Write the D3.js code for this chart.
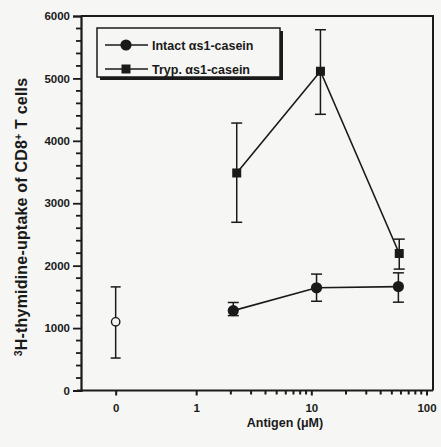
<!DOCTYPE html>
<html>
<head>
<meta charset="utf-8">
<script src="https://cdn.jsdelivr.net/npm/d3@7"></script>
<style>
  body { margin: 0; background: #f6f6f4; }
  svg { display: block; }
  text { font-family: "Liberation Sans", Arial, sans-serif; fill: #1a1a1a; }
</style>
</head>
<body>
<svg id="chart"></svg>
<script>
const width = 441
const height = 447

// control (0 µM) is drawn at the 0.2 position of the log axis
const controlDose = [0.2]
const controlMean = [1100]
const controlLo = [520]
const controlHi = [1660]

const intactDose = [2.1, 11.1, 57]
const intactMean = [1280, 1645, 1665]
const intactLo = [1200, 1430, 1415]
const intactHi = [1410, 1865, 1885]

const trypDose = [2.25, 12, 58]
const trypMean = [3485, 5115, 2195]
const trypLo = [2695, 4425, 1945]
const trypHi = [4285, 5780, 2425]

const yTicks = [0, 1000, 2000, 3000, 4000, 5000, 6000]
const xTickVals = [0.2, 1, 10, 100]
const xTickLabels = ["0", "1", "10", "100"]
const xMinor = [2, 3, 4, 5, 6, 7, 8, 9, 20, 30, 40, 50, 60, 70, 80, 90]

const legendLabels = ["Intact \u03b1s1-casein", "Tryp. \u03b1s1-casein"]

const plotL = 81, plotR = 433, plotT = 16, plotB = 390.5

const svg = d3.select("#chart").attr("width", width).attr("height", height)

const x = d3.scaleLog().domain([0.1, 100]).range([plotL, 426.5])
const y = d3.scaleLinear().domain([0, 6000]).range([plotB, plotT])

const ink = "#1a1a1a"

// frame top and right
svg.append("path")
    .attr("d", `M${plotL},${plotT}H${plotR}V${plotB}`)
    .attr("fill", "none").attr("stroke", ink).attr("stroke-width", 2)

// y axis
const yAxis = svg.append("g")
    .attr("transform", `translate(${plotL},0)`)
    .call(d3.axisLeft(y).tickValues(yTicks).tickSize(8).tickPadding(3).tickFormat(d3.format("d")))
yAxis.select(".domain").attr("stroke", ink).attr("stroke-width", 2.2)
yAxis.selectAll(".tick line").attr("stroke", ink).attr("stroke-width", 1.8)
yAxis.selectAll(".tick text").attr("font-size", 11.5).attr("font-weight", "bold").attr("fill", ink)

const yMinor = d3.range(200, 6000, 200).filter(v => v % 1000 !== 0)
svg.append("g").selectAll("line").data(yMinor).join("line")
    .attr("x1", plotL - 5).attr("x2", plotL)
    .attr("y1", d => y(d)).attr("y2", d => y(d))
    .attr("stroke", ink).attr("stroke-width", 1.8)

// x axis
const xAxis = svg.append("g")
    .attr("transform", `translate(0,${plotB})`)
    .call(d3.axisBottom(x).tickValues(xTickVals).tickSize(5).tickPadding(8)
        .tickFormat((d, i) => xTickLabels[i]))
xAxis.select(".domain").attr("stroke", ink).attr("stroke-width", 2.2).attr("d", `M${plotL - 4},0H${plotR}`)
xAxis.selectAll(".tick line").attr("stroke", ink).attr("stroke-width", 2)
xAxis.selectAll(".tick text").attr("font-size", 11.5).attr("font-weight", "bold").attr("fill", ink)

svg.append("g").selectAll("line").data(xMinor).join("line")
    .attr("x1", d => x(d)).attr("x2", d => x(d))
    .attr("y1", plotB).attr("y2", plotB + 4)
    .attr("stroke", ink).attr("stroke-width", 2)

// axis titles
svg.append("text")
    .attr("x", 285).attr("y", 427)
    .attr("text-anchor", "middle")
    .attr("font-size", 12.5).attr("font-weight", "bold")
    .text("Antigen (\u03bcM)")

const yTitle = svg.append("text")
    .attr("transform", "translate(27,217) rotate(-90)")
    .attr("text-anchor", "middle")
    .attr("font-size", 16).attr("font-weight", "bold")
    .attr("letter-spacing", 0.2)
yTitle.append("tspan").attr("font-size", 10.5).attr("dy", -5).text("3")
yTitle.append("tspan").attr("dy", 5).text("H-thymidine-uptake of CD8")
yTitle.append("tspan").attr("font-size", 10.5).attr("dy", -5).text("+")
yTitle.append("tspan").attr("dy", 5).text(" T cells")

// error bars
const drawErr = (dose, lo, hi, cap) => {
    const g = svg.append("g").attr("stroke", ink).attr("stroke-width", 1.5)
    dose.forEach((d, i) => {
        const cx = x(d)
        g.append("line").attr("x1", cx).attr("x2", cx).attr("y1", y(lo[i])).attr("y2", y(hi[i]))
        g.append("line").attr("x1", cx - cap).attr("x2", cx + cap).attr("y1", y(lo[i])).attr("y2", y(lo[i]))
        g.append("line").attr("x1", cx - cap).attr("x2", cx + cap).attr("y1", y(hi[i])).attr("y2", y(hi[i]))
    })
}
drawErr(controlDose, controlLo, controlHi, 5)
drawErr(intactDose, intactLo, intactHi, 5.5)
drawErr(trypDose, trypLo, trypHi, 5.5)

const line = d3.line().x(d => x(d[0])).y(d => y(d[1]))

svg.append("path")
    .attr("d", line(d3.zip(intactDose, intactMean)))
    .attr("fill", "none").attr("stroke", ink).attr("stroke-width", 1.6)
svg.append("path")
    .attr("d", line(d3.zip(trypDose, trypMean)))
    .attr("fill", "none").attr("stroke", ink).attr("stroke-width", 1.6)

// markers
svg.append("g").selectAll("circle").data(d3.zip(controlDose, controlMean)).join("circle")
    .attr("cx", d => x(d[0])).attr("cy", d => y(d[1])).attr("r", 4.2)
    .attr("fill", "#f6f6f4").attr("stroke", ink).attr("stroke-width", 1.4)

svg.append("g").selectAll("circle").data(d3.zip(intactDose, intactMean)).join("circle")
    .attr("cx", d => x(d[0])).attr("cy", d => y(d[1])).attr("r", 5.6)
    .attr("fill", ink)

svg.append("g").selectAll("rect").data(d3.zip(trypDose, trypMean)).join("rect")
    .attr("x", d => x(d[0]) - 4.5).attr("y", d => y(d[1]) - 4.5)
    .attr("width", 9).attr("height", 9)
    .attr("fill", ink)

// legend
const lg = svg.append("g")
lg.append("rect").attr("x", 100).attr("y", 31).attr("width", 183).attr("height", 49).attr("fill", ink)
lg.append("rect").attr("x", 97).attr("y", 28).attr("width", 183).attr("height", 49)
    .attr("fill", "#f6f6f4").attr("stroke", ink).attr("stroke-width", 1.5)

legendLabels.forEach((label, i) => {
    const ly = 45 + i * 24
    lg.append("line").attr("x1", 105).attr("x2", 148).attr("y1", ly).attr("y2", ly)
        .attr("stroke", ink).attr("stroke-width", 1.6)
    if (i === 0) {
        lg.append("circle").attr("cx", 126).attr("cy", ly).attr("r", 5.6).attr("fill", ink)
    } else {
        lg.append("rect").attr("x", 121.5).attr("y", ly - 4.5).attr("width", 9).attr("height", 9).attr("fill", ink)
    }
    lg.append("text").attr("x", 152).attr("y", ly + 4.5)
        .attr("font-size", 12.5).attr("font-weight", "bold")
        .text(label)
})
</script>
</body>
</html>
